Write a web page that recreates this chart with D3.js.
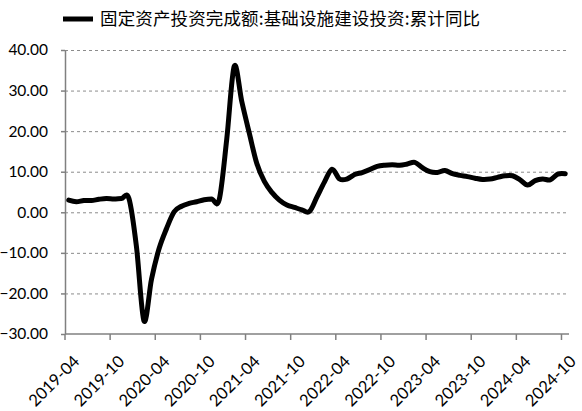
<!DOCTYPE html>
<html><head><meta charset="utf-8">
<script src="https://cdn.jsdelivr.net/npm/d3@7"></script>
<style>body{margin:0;background:#fff}svg{display:block}</style>
</head><body><div id="c"></div>
<script>
const months = (() => { const a=[]; let y=2019,m=4; while(!(y===2024&&m===11)){a.push(y+"-"+String(m).padStart(2,"0")); m++; if(m>12){m=1;y++;}} return a; })();
const values = [
 3.0, 2.6, 2.9, 2.9, 3.2, 3.4, 3.3, 3.4, 3.4,
 -8.5, -26.8, -16.5, -9.0, -4.0, 0.1, 1.5, 2.2, 2.6, 3.1, 3.3, 3.1,
 18.0, 36.0, 27.3, 19.5, 12.0, 7.6, 4.9, 3.0, 1.8, 1.2, 0.6, 0.2,
 3.8, 7.5, 10.6, 8.2, 8.2, 9.3, 9.8, 10.5, 11.3, 11.6, 11.7, 11.6,
 11.9, 12.3, 11.0, 10.0, 9.8, 10.3, 9.5, 9.1, 8.8, 8.4, 8.1, 8.2,
 8.6, 9.0, 9.0, 8.0, 6.7, 7.8, 8.2, 8.0, 9.4, 9.5
];
const yTicks = [40, 30, 20, 10, 0, -10, -20, -30];
const xTickLabels = months.filter((d,i)=>i%6===0);
const legendLabel = "固定资产投资完成额:基础设施建设投资:累计同比";

const W=582,H=411, L=65, R=569, T=50, B=334;
const svg=d3.select("#c").append("svg").attr("width",W).attr("height",H);
const x=d3.scaleBand().domain(months).range([L,R]).paddingInner(0).paddingOuter(0);
const y=d3.scaleLinear().domain([-30,40]).range([B,T]);
const font="Lato, 'Open Sans', sans-serif";

// grid
svg.append("g").selectAll("line").data(yTicks.filter(d=>d!==-30)).join("line")
 .attr("x1",L).attr("x2",R).attr("y1",d=>y(d)+0.5).attr("y2",d=>y(d)+0.5)
 .attr("stroke","#8c8c8c").attr("stroke-width",1).attr("stroke-dasharray","3,3");

// y axis
const ya=svg.append("g").attr("transform",`translate(${L},0)`)
 .call(d3.axisLeft(y).tickValues(yTicks).tickSize(4).tickSizeOuter(0).tickFormat(d3.format(".2f")));
ya.select(".domain").attr("stroke","#808080").attr("stroke-width",1.5);
ya.selectAll(".tick line").attr("stroke","#808080").attr("stroke-width",1.5);
ya.selectAll("text").attr("font-family",font).attr("font-size","15.5px").attr("fill","#000").attr("x",-17);

// x axis
const xa=svg.append("g").attr("transform",`translate(0,${B})`)
 .call(d3.axisBottom(x).tickValues(xTickLabels).tickSize(6).tickSizeOuter(0));
xa.selectAll(".tick").attr("transform",d=>`translate(${x(d)},0)`);
xa.select(".domain").attr("stroke","#808080").attr("stroke-width",1.5).attr("d",`M${L},0H${R}`);
xa.selectAll(".tick line").attr("stroke","#808080").attr("stroke-width",1.5);
xa.selectAll("text").attr("font-family",font).attr("font-size","16.5px").attr("fill","#000")
 .attr("text-anchor","end").attr("dy",0).attr("y",0)
 .attr("transform","translate(15.5,28.5) rotate(-45)");

// line
const line=d3.line().x(d=>x(d.m)+x.bandwidth()/2).y(d=>y(d.v)).curve(d3.curveCardinal.tension(0));
svg.append("path").datum(months.map((m,i)=>({m,v:values[i]})))
 .attr("d",line).attr("fill","none").attr("stroke","#000").attr("stroke-width",5)
 .attr("stroke-linejoin","round").attr("stroke-linecap","round");

// legend
svg.append("line").attr("x1",63).attr("x2",93).attr("y1",19).attr("y2",19).attr("stroke","#000").attr("stroke-width",5);
svg.append("text").attr("x",100).attr("y",25).attr("font-family","'Noto Sans CJK SC', sans-serif")
 .attr("font-size","17.5px").attr("fill","#000").attr("textLength",380).attr("lengthAdjust","spacing").text(legendLabel);
</script></body></html>
